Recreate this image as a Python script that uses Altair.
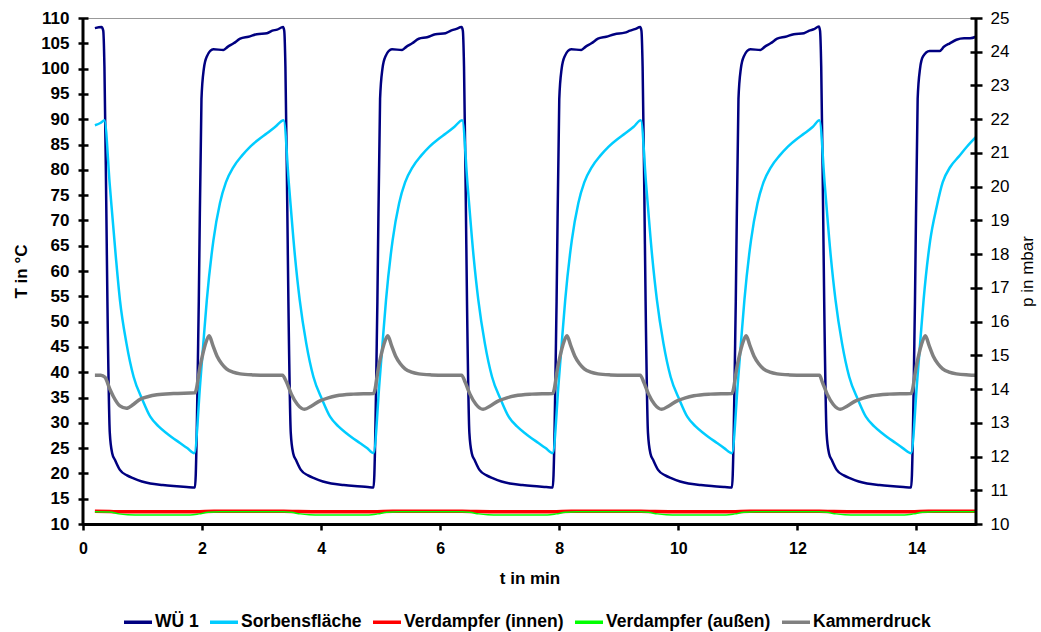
import altair as alt
import pandas as pd

# ---------------- data ----------------
series_names = ["WÜ 1", "Sorbensfläche", "Verdampfer (innen)", "Verdampfer (außen)", "Kammerdruck"]
series_colors = ["#000080", "#00CCFF", "#FF0000", "#00FF00", "#808080"]

x_ticks = [0, 2, 4, 6, 8, 10, 12, 14]
t_ticks = [10, 15, 20, 25, 30, 35, 40, 45, 50, 55, 60, 65, 70, 75, 80, 85, 90, 95, 100, 105, 110]
p_ticks = [10, 11, 12, 13, 14, 15, 16, 17, 18, 19, 20, 21, 22, 23, 24, 25]

# WÜ 1 (T in °C)
wu_t = [0.2, 0.31, 0.34, 0.36, 0.39, 0.41, 0.45, 0.49, 0.54, 0.62, 0.74, 0.85, 0.99, 1.13, 1.34, 1.52, 1.74, 1.88,
        1.945, 1.99, 2.03, 2.08, 2.19, 2.36, 2.43, 2.53, 2.64, 2.78, 2.92, 3.09, 3.18, 3.26, 3.36,
        3.38, 3.40, 3.43, 3.45, 3.49, 3.53, 3.58, 3.66, 3.78, 3.89, 4.03, 4.17, 4.38, 4.56, 4.78, 4.88,
        4.945, 4.99, 5.03, 5.08, 5.19, 5.36, 5.43, 5.53, 5.64, 5.78, 5.92, 6.09, 6.18, 6.26, 6.36,
        6.38, 6.40, 6.43, 6.45, 6.49, 6.53, 6.58, 6.66, 6.78, 6.89, 7.03, 7.17, 7.38, 7.56, 7.78, 7.89,
        7.955, 8.0, 8.04, 8.09, 8.2, 8.37, 8.44, 8.54, 8.65, 8.79, 8.93, 9.1, 9.19, 9.27, 9.36,
        9.38, 9.40, 9.43, 9.45, 9.49, 9.53, 9.58, 9.66, 9.78, 9.89, 10.03, 10.17, 10.38, 10.56, 10.78, 10.9,
        10.965, 11.01, 11.05, 11.1, 11.21, 11.38, 11.45, 11.55, 11.66, 11.8, 11.94, 12.11, 12.2, 12.28, 12.36,
        12.38, 12.40, 12.43, 12.45, 12.49, 12.53, 12.58, 12.66, 12.78, 12.89, 13.03, 13.17, 13.38, 13.56, 13.78, 13.91,
        13.975, 14.02, 14.06, 14.11, 14.22, 14.39, 14.46, 14.56, 14.67, 14.8, 14.9, 15.0]
wu_v = [108.0, 108.2, 107.5, 100.4, 74, 54, 28, 24, 22.6, 20.7, 19.6, 19.0, 18.4, 18.0, 17.7, 17.5, 17.3, 17.2,
        54, 94, 100, 102.4, 103.8, 103.7, 104.3, 105.0, 105.9, 106.3, 106.8, 107.0, 107.5, 107.7, 108.2,
        107.5, 100.4, 74, 54, 28, 24, 22.6, 20.7, 19.6, 19.0, 18.4, 18.0, 17.7, 17.5, 17.3, 17.2,
        54, 94, 100, 102.4, 103.8, 103.7, 104.3, 105.0, 105.9, 106.2, 106.8, 107.0, 107.5, 107.8, 108.2,
        107.5, 100.4, 74, 54, 28, 24, 22.6, 20.7, 19.6, 19.0, 18.4, 18.0, 17.7, 17.5, 17.3, 17.2,
        54, 94, 100, 102.4, 103.8, 103.7, 104.3, 105.0, 105.9, 106.3, 106.8, 107.1, 107.5, 107.8, 108.2,
        107.5, 100.4, 74, 54, 28, 24, 22.6, 20.7, 19.6, 19.0, 18.4, 18.0, 17.7, 17.5, 17.3, 17.2,
        54, 94, 100, 102.4, 103.8, 103.7, 104.3, 105.0, 105.9, 106.3, 106.8, 107.0, 107.5, 107.8, 108.3,
        107.5, 100.4, 74, 54, 28, 24, 22.6, 20.7, 19.6, 19.0, 18.4, 18.0, 17.7, 17.5, 17.3, 17.2,
        54, 94, 100, 102.4, 103.5, 103.5, 104.3, 105.0, 105.7, 106.0, 106.0, 106.3]

# Sorbensfläche (T in °C)
sorb_t = [0.2, 0.3, 0.36, 0.45, 0.55, 0.62, 0.73, 0.85, 1.0, 1.13, 1.27, 1.41, 1.63, 1.75, 1.87,
          1.97, 2.03, 2.08, 2.19, 2.30, 2.4, 2.53, 2.67, 2.81, 2.95, 3.09, 3.23, 3.37,
          3.46, 3.56, 3.64, 3.75, 3.87, 4.02, 4.15, 4.29, 4.43, 4.65, 4.77, 4.88,
          4.98, 5.04, 5.09, 5.2, 5.31, 5.41, 5.54, 5.68, 5.82, 5.96, 6.1, 6.24, 6.37,
          6.46, 6.56, 6.64, 6.75, 6.87, 7.02, 7.15, 7.29, 7.43, 7.65, 7.77, 7.89,
          7.99, 8.05, 8.1, 8.21, 8.32, 8.42, 8.55, 8.69, 8.83, 8.97, 9.11, 9.25, 9.37,
          9.46, 9.56, 9.64, 9.75, 9.87, 10.02, 10.15, 10.29, 10.43, 10.65, 10.77, 10.9,
          11.0, 11.06, 11.11, 11.22, 11.33, 11.43, 11.56, 11.7, 11.84, 11.98, 12.12, 12.26, 12.37,
          12.46, 12.56, 12.64, 12.75, 12.87, 13.02, 13.15, 13.29, 13.43, 13.65, 13.77, 13.91,
          14.01, 14.07, 14.12, 14.23, 14.34, 14.44, 14.57, 14.71, 14.85, 15.0]
sorb_v = [88.8, 89.3, 89.8, 77, 63, 54.3, 45.7, 39.1, 34.5, 31.2, 29.3, 27.9, 26.0, 25.0, 24.0,
          38, 47, 54.3, 66, 73.4, 77.5, 80.6, 82.8, 84.6, 86.0, 87.2, 88.5, 89.8,
          77, 63, 54.3, 45.7, 39.1, 34.5, 31.2, 29.3, 27.9, 26.0, 25.0, 24.0,
          38, 47, 54.3, 66, 73.4, 77.5, 80.6, 82.8, 84.6, 86.0, 87.2, 88.5, 89.8,
          77, 63, 54.3, 45.7, 39.1, 34.5, 31.2, 29.3, 27.9, 26.0, 25.0, 24.0,
          38, 47, 54.3, 66, 73.4, 77.5, 80.6, 82.8, 84.6, 86.0, 87.2, 88.5, 89.8,
          77, 63, 54.3, 45.7, 39.1, 34.5, 31.2, 29.3, 27.9, 26.0, 25.0, 24.0,
          38, 47, 54.3, 66, 73.4, 77.5, 80.6, 82.8, 84.6, 86.0, 87.2, 88.5, 89.8,
          77, 63, 54.3, 45.7, 39.1, 34.5, 31.2, 29.3, 27.9, 26.0, 25.0, 24.0,
          38, 47, 54.3, 66, 72.7, 77.5, 80.6, 82.6, 84.6, 86.5]

# Verdampfer (innen) (T in °C)
vi_t = [0.2, 0.45, 1.0, 1.9, 2.2, 3.37, 3.6, 4.0, 4.88, 5.2, 6.37, 6.6, 7.0, 7.89, 8.2, 9.37, 9.6, 10.0,
        10.9, 11.2, 12.37, 12.6, 13.0, 13.91, 14.2, 15.0]
vi_v = [12.5, 12.45, 12.4, 12.4, 12.5, 12.5, 12.45, 12.4, 12.4, 12.5, 12.5, 12.45, 12.4, 12.4, 12.5, 12.5,
        12.45, 12.4, 12.4, 12.5, 12.5, 12.45, 12.4, 12.4, 12.5, 12.5]

# Verdampfer (außen) (T in °C)
va_t = [0.2, 0.45, 0.6, 0.75, 1.0, 1.8, 1.95, 2.1, 2.3, 3.37,
        3.5, 3.65, 3.8, 4.0, 4.8, 4.95, 5.1, 5.3, 6.37,
        6.5, 6.65, 6.8, 7.0, 7.8, 7.95, 8.1, 8.3, 9.37,
        9.5, 9.65, 9.8, 10.0, 10.8, 10.95, 11.1, 11.3, 12.37,
        12.5, 12.65, 12.8, 13.0, 13.8, 13.95, 14.1, 14.3, 15.0]
va_v = [12.4, 12.35, 12.0, 11.85, 11.8, 11.8, 12.0, 12.3, 12.4, 12.4,
        12.3, 12.0, 11.85, 11.8, 11.8, 12.0, 12.3, 12.4, 12.4,
        12.3, 12.0, 11.85, 11.8, 11.8, 12.0, 12.3, 12.4, 12.4,
        12.3, 12.0, 11.85, 11.8, 11.8, 12.0, 12.3, 12.4, 12.4,
        12.3, 12.0, 11.85, 11.8, 11.8, 12.0, 12.3, 12.4, 12.4]

# Kammerdruck (p in mbar)
kd_t = [0.2, 0.3, 0.37, 0.45, 0.51, 0.62, 0.73, 0.85, 0.96, 1.1, 1.24, 1.52, 1.88,
        1.97, 2.05, 2.12, 2.18, 2.25, 2.33, 2.41, 2.52, 2.64, 2.85, 3.09, 3.35,
        3.42, 3.5, 3.6, 3.72, 3.84, 3.98, 4.12, 4.26, 4.54, 4.88,
        4.97, 5.05, 5.12, 5.18, 5.25, 5.33, 5.41, 5.52, 5.64, 5.85, 6.09, 6.36,
        6.42, 6.5, 6.6, 6.72, 6.84, 6.98, 7.12, 7.26, 7.54, 7.89,
        7.98, 8.06, 8.13, 8.19, 8.26, 8.34, 8.42, 8.53, 8.65, 8.86, 9.1, 9.36,
        9.42, 9.5, 9.6, 9.72, 9.84, 9.98, 10.12, 10.26, 10.54, 10.9,
        10.99, 11.07, 11.14, 11.2, 11.27, 11.35, 11.43, 11.54, 11.66, 11.87, 12.11, 12.37,
        12.42, 12.5, 12.6, 12.72, 12.84, 12.98, 13.12, 13.26, 13.54, 13.91,
        14.0, 14.08, 14.15, 14.21, 14.28, 14.36, 14.44, 14.55, 14.67, 14.88, 15.0]
kd_v = [14.41, 14.41, 14.35, 14.0, 13.78, 13.5, 13.43, 13.55, 13.7, 13.78, 13.83, 13.87, 13.89,
        14.7, 15.3, 15.58, 15.3, 14.98, 14.75, 14.6, 14.5, 14.45, 14.42, 14.41, 14.41,
        14.2, 13.85, 13.55, 13.4, 13.5, 13.65, 13.74, 13.8, 13.85, 13.87,
        14.7, 15.3, 15.58, 15.3, 14.98, 14.75, 14.6, 14.5, 14.45, 14.42, 14.41, 14.41,
        14.2, 13.85, 13.55, 13.4, 13.5, 13.65, 13.74, 13.8, 13.85, 13.87,
        14.7, 15.3, 15.58, 15.3, 14.98, 14.75, 14.6, 14.5, 14.45, 14.42, 14.41, 14.41,
        14.2, 13.85, 13.55, 13.4, 13.5, 13.65, 13.74, 13.8, 13.85, 13.87,
        14.7, 15.3, 15.58, 15.3, 14.98, 14.75, 14.6, 14.5, 14.45, 14.42, 14.41, 14.41,
        14.2, 13.85, 13.55, 13.4, 13.5, 13.65, 13.74, 13.8, 13.85, 13.87,
        14.7, 15.3, 15.58, 15.3, 14.98, 14.75, 14.6, 14.5, 14.45, 14.42, 14.41]

# ---------------- chart ----------------
FONT = "Liberation Sans"
W, H = 893, 506

color_scale = alt.Scale(domain=series_names, range=series_colors)
x_scale = alt.Scale(domain=[0, 15], nice=False, zero=False)
t_scale = alt.Scale(domain=[10, 110], nice=False, zero=False)
p_scale = alt.Scale(domain=[10, 25], nice=False, zero=False)

x_axis = alt.Axis(values=x_ticks, title="t in min", grid=False, labelFlush=False, labelOverlap=False,
                  domainColor="black", domainWidth=3, tickColor="black", tickWidth=2.5, tickSize=6,
                  labelFont=FONT, labelFontSize=16, labelFontWeight="bold", labelColor="black", labelPadding=10,
                  titleFont=FONT, titleFontSize=17, titleFontWeight="bold", titleColor="black", titlePadding=14)

t_axis = alt.Axis(values=t_ticks, title="T in °C", grid=False, labelOverlap=False, domain=False, offset=-5,
                  tickColor="black", tickWidth=2.5, tickSize=10,
                  labelFont=FONT, labelFontSize=17, labelFontWeight="bold", labelColor="black", labelPadding=9,
                  titleFont=FONT, titleFontSize=17, titleFontWeight="bold", titleColor="black", titlePadding=10)

p_axis = alt.Axis(values=p_ticks, title="p in mbar", orient="right", grid=False, labelOverlap=False,
                  domain=False, offset=-6, tickColor="black", tickWidth=2.5, tickSize=12,
                  labelFont=FONT, labelFontSize=17, labelFontWeight="normal", labelColor="black", labelPadding=8,
                  titleFont=FONT, titleFontSize=17, titleFontWeight="normal", titleColor="black",
                  titleAngle=270, titlePadding=28)

legend = alt.Legend(orient="none", legendX=39, legendY=588, direction="horizontal", title=None,
                    symbolType="stroke", symbolSize=784, symbolStrokeWidth=3.5,
                    labelFont=FONT, labelFontSize=17.5, labelFontWeight="bold", labelColor="black",
                    labelOffset=1, columnPadding=4, labelLimit=400)


def line_layer(t, v, name, width, yscale, yaxis):
    df = pd.DataFrame({"t": t, "v": v, "Reihe": [name] * len(t)})
    return alt.Chart(df).mark_line(strokeWidth=width, interpolate="monotone").encode(
        x=alt.X("t:Q", scale=x_scale, axis=x_axis),
        y=alt.Y("v:Q", scale=yscale, axis=yaxis),
        color=alt.Color("Reihe:N", scale=color_scale, legend=legend),
    )


wu = line_layer(wu_t, wu_v, series_names[0], 2.5, t_scale, t_axis)
sorb = line_layer(sorb_t, sorb_v, series_names[1], 2.5, t_scale, t_axis)
vi = line_layer(vi_t, vi_v, series_names[2], 3.5, t_scale, t_axis)
va = line_layer(va_t, va_v, series_names[3], 1.5, t_scale, t_axis)
kd = line_layer(kd_t, kd_v, series_names[4], 3.5, p_scale, p_axis)

frame_df = pd.DataFrame({"k": [0]})
left_rule = alt.Chart(frame_df).mark_rule(color="black", strokeWidth=3).encode(
    x=alt.value(0), y=alt.value(0), y2=alt.value(H + 1.5))
right_rule = alt.Chart(frame_df).mark_rule(color="black", strokeWidth=3).encode(
    x=alt.value(W), y=alt.value(0), y2=alt.value(H + 1.5))

temps = alt.layer(wu, sorb, vi, va)

chart = alt.layer(temps, kd, left_rule, right_rule).resolve_scale(y="independent").properties(
    width=W, height=H,
    autosize=alt.AutoSizeParams(type="none"),
    padding={"left": 83, "top": 18, "right": 65, "bottom": 108},
    background="white",
).configure_view(stroke="#999999", strokeWidth=1)

chart.save("out.html", embed_options={"renderer": "svg", "actions": False})
